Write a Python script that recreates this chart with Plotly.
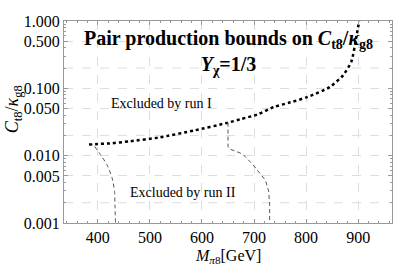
import plotly.graph_objects as go

# Run I bound (dotted)
run1_m = [383, 400, 423, 460, 519, 584, 648, 675, 706, 738, 770, 802, 846, 871, 887, 896, 902]
run1_c = [0.0146, 0.0149, 0.0152, 0.0163, 0.0187, 0.0236, 0.0306, 0.035, 0.0407, 0.0527, 0.062, 0.074, 0.105, 0.156, 0.25, 0.55, 1.0]

# Run II bound, low-mass branch (dashed)
run2a_m = [394, 404, 417, 427, 432, 433, 434]
run2a_c = [0.0137, 0.0106, 0.0075, 0.0048, 0.0030, 0.0017, 0.001]

# Run II bound, high-mass branch (dashed)
run2b_m = [650, 650, 653, 678, 697, 713, 722, 728, 730, 730]
run2b_c = [0.031, 0.0135, 0.0126, 0.0106, 0.0075, 0.0053, 0.0043, 0.0030, 0.0019, 0.001]

x_ticks = [400, 500, 600, 700, 800, 900]
y_ticks = [0.001, 0.005, 0.01, 0.05, 0.1, 0.5, 1.0]
y_labels = ["0.001", "0.005", "0.010", "0.050", "0.100", "0.500", "1.000"]
y_extra_grid = [0.002, 0.02, 0.2]

FONT = "'Liberation Serif', 'Times New Roman', Times, serif"

fig = go.Figure()
fig.add_trace(go.Scatter(x=run1_m, y=run1_c, mode="lines", line=dict(color="black", width=2.5, dash="dot", shape="spline", smoothing=0.6), showlegend=False))
fig.add_trace(go.Scatter(x=run2a_m, y=run2a_c, mode="lines", line=dict(color="#555555", width=1, dash="4px,3px", shape="spline", smoothing=0.5), showlegend=False))
fig.add_trace(go.Scatter(x=run2b_m, y=run2b_c, mode="lines", line=dict(color="#555555", width=1, dash="4px,3px"), showlegend=False))

for gv in y_extra_grid:
    fig.add_hline(y=gv, line=dict(color="#dddddd", width=1, dash="dash"), layer="below")

fig.update_layout(
    width=415, height=266,
    margin=dict(l=64, r=23, t=21, b=43, pad=0, autoexpand=False),
    plot_bgcolor="white", paper_bgcolor="white",
    font=dict(family=FONT, color="black", size=16),
    xaxis=dict(range=[335, 965], tickvals=x_ticks, ticks="inside", ticklen=4, tickcolor="#999999",
               showline=True, linecolor="#999999", linewidth=1, mirror="ticks", automargin=False,
               showgrid=True, gridcolor="#dddddd", griddash="dash", gridwidth=1, zeroline=False,
               tickfont=dict(family=FONT, size=16, color="black"),
               minor=dict(dtick=20, ticks="inside", ticklen=2, tickcolor="#999999", showgrid=False)),
    yaxis=dict(type="log", range=[-3, 0], tickvals=y_ticks, ticktext=y_labels, ticks="inside", ticklen=4, tickcolor="#999999",
               showline=True, linecolor="#999999", linewidth=1, mirror="ticks", automargin=False,
               showgrid=True, gridcolor="#dddddd", griddash="dash", gridwidth=1, zeroline=False,
               tickfont=dict(family=FONT, size=16, color="black"),
               minor=dict(dtick="D1", ticks="inside", ticklen=2, tickcolor="#999999", showgrid=False)),
    annotations=[
        dict(text="<b>Pair production bounds on <i>C</i><sub>t8</sub>/<i>κ</i><sub>g8</sub><br><i>Y</i><sub>χ</sub>=1/3</b>",
             xref="paper", yref="paper", x=0.5, y=0.845, showarrow=False,
             font=dict(family=FONT, size=20, color="black"), xanchor="center", yanchor="middle", align="center"),
        dict(text="Excluded by run I", x=523, y=-1.223, xref="x", yref="y", showarrow=False,
             font=dict(family=FONT, size=14, color="black")),
        dict(text="Excluded by run II", x=563, y=-2.545, xref="x", yref="y", showarrow=False,
             font=dict(family=FONT, size=14, color="black")),
        dict(text="<i>M</i><sub><i>π</i>8</sub>[GeV]", xref="paper", yref="paper", x=0.5, y=-0.168,
             showarrow=False, font=dict(family=FONT, size=16, color="black"), xanchor="center", yanchor="middle"),
        dict(text="<i>C</i><sub>t8</sub>/<i>κ</i><sub>g8</sub>", xref="paper", yref="paper", x=-0.155, y=0.564,
             textangle=-90, showarrow=False, font=dict(family=FONT, size=18, color="black"), xanchor="center", yanchor="middle"),
    ],
)

fig.write_html("out.html", config={"displayModeBar": False}, post_script="document.body.style.margin='0';")
